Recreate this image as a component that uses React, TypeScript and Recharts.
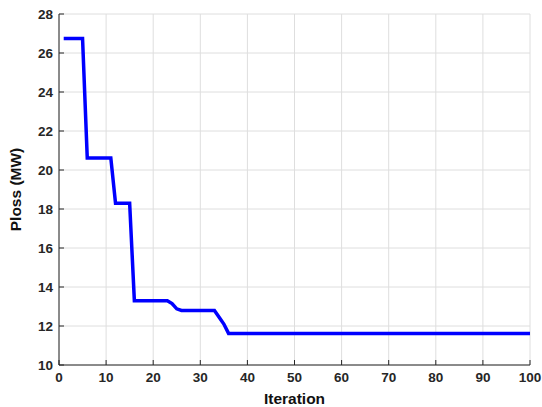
import { LineChart, Line, XAxis, YAxis, CartesianGrid } from 'recharts';

// breakpoints of the convergence curve (iteration, Ploss in MW)
const iterations = [1, 5, 6, 11, 12, 15, 16, 23, 24, 25, 26, 33, 34, 35, 36, 100];
const ploss = [26.75, 26.75, 20.62, 20.62, 18.3, 18.3, 13.3, 13.3, 13.15, 12.88, 12.8, 12.8, 12.45, 12.1, 11.62, 11.62];

const xTicks = [0, 10, 20, 30, 40, 50, 60, 70, 80, 90, 100];
const yTicks = [10, 12, 14, 16, 18, 20, 22, 24, 26, 28];

const data = iterations.map((it, i) => ({ it, loss: ploss[i] }));

const font = 'Liberation Sans, Arial, Helvetica, sans-serif';
const axisColor = '#262626';
const tickStyle = { fontFamily: font, fontSize: 13.5, fontWeight: 700, fill: axisColor };
const labelStyle = { fontFamily: font, fontSize: 15.5, fontWeight: 700, fill: '#111' };

export default function App() {
  return (
    <div style={{ position: 'absolute', left: 0, top: 0, background: '#fff' }}>
      <LineChart width={542} height={407} data={data} margin={{ top: 14, right: 12, bottom: 0, left: 0 }}>
        <CartesianGrid stroke="#dedede" strokeWidth={1} />
        <XAxis
          dataKey="it"
          type="number"
          domain={[0, 100]}
          ticks={xTicks}
          height={42}
          stroke={axisColor}
          tickSize={-5}
          tickMargin={12}
          tick={tickStyle}
          interval={0}
          label={{ value: 'Iteration', position: 'insideBottom', offset: 3, style: labelStyle }}
        />
        <YAxis
          type="number"
          domain={[10, 28]}
          ticks={yTicks}
          width={59}
          stroke={axisColor}
          tickSize={-5}
          tickMargin={11}
          tick={tickStyle}
          interval={0}
          label={{ value: 'Ploss (MW)', angle: -90, position: 'insideLeft', offset: 15, style: { ...labelStyle, textAnchor: 'middle' } }}
        />
        <Line
          dataKey="loss"
          type="linear"
          stroke="#0000ff"
          strokeWidth={3.5}
          dot={false}
          isAnimationActive={false}
        />
      </LineChart>
    </div>
  );
}
